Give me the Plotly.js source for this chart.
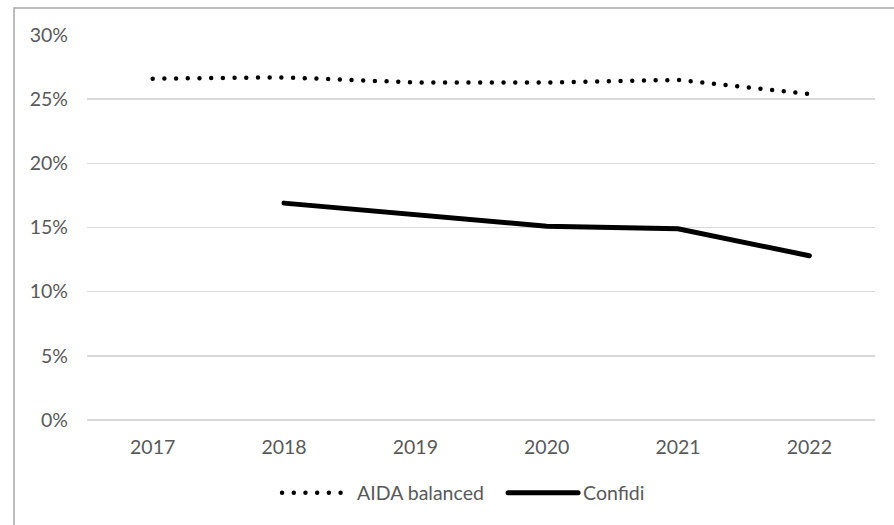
<!DOCTYPE html>
<html>
<head>
<meta charset="utf-8">
<script src="https://cdn.plot.ly/plotly-3.0.1.min.js"></script>
<style>
  html, body { margin: 0; padding: 0; background: #fff; }
  #chart { width: 894px; height: 525px; }
  /* round caps so the dotted series draws as round dots */
  .scatterlayer .js-line, .legend .js-line { stroke-linecap: round; }
</style>
</head>
<body>
<div id="chart"></div>
<script>
// Years on the category axis
const years = ['2017', '2018', '2019', '2020', '2021', '2022'];
// Share values in percent
const aidaBalanced = [26.6, 26.7, 26.3, 26.3, 26.5, 25.4];
const confidi = [null, 16.9, 16.0, 15.1, 14.9, 12.8];
// Y-axis ticks
const yTickVals = [0, 5, 10, 15, 20, 25, 30];
const yTickText = yTickVals.map(v => v + '%');

const font = { family: 'Lato, "Open Sans", sans-serif', size: 19.5, color: '#595959' };

const traces = [
  {
    x: years, y: aidaBalanced, name: 'AIDA balanced',
    type: 'scatter', mode: 'lines',
    line: { color: '#000000', width: 4.5, dash: '0px,11.7px' },
    hoverinfo: 'skip'
  },
  {
    x: years, y: confidi, name: 'Confidi',
    type: 'scatter', mode: 'lines',
    line: { color: '#000000', width: 5 },
    connectgaps: false,
    hoverinfo: 'skip'
  }
];

const layout = {
  width: 894, height: 525,
  margin: { l: 87, r: 19, t: 35, b: 105 },
  paper_bgcolor: '#ffffff', plot_bgcolor: '#ffffff',
  font: font,
  showlegend: true,
  legend: {
    orientation: 'h', x: 0.528, xanchor: 'center', y: -0.19, yanchor: 'middle',
    font: font, itemwidth: 70, traceorder: 'normal',
    entrywidth: 141, entrywidthmode: 'pixels'
  },
  xaxis: {
    type: 'category', range: [-0.5, 5.5],
    showgrid: false, zeroline: false, showline: false,
    ticks: '', ticklabelstandoff: 13, tickfont: font, fixedrange: true
  },
  yaxis: {
    range: [0, 30], tickvals: yTickVals, ticktext: yTickText,
    showgrid: true, gridcolor: '#d9d9d9', gridwidth: 1.5,
    zeroline: true, zerolinecolor: '#d9d9d9', zerolinewidth: 1.5,
    showline: false,
    ticks: '', ticklabelstandoff: 18, tickfont: font, fixedrange: true
  },
  shapes: [
    {
      type: 'rect', xref: 'paper', yref: 'paper',
      x0: -0.0926, x1: 1.2, y0: -0.6, y1: 1.0701,
      line: { color: '#a6a6a6', width: 1.5 }, fillcolor: 'rgba(0,0,0,0)', layer: 'below'
    }
  ]
};

Plotly.newPlot('chart', traces, layout, { staticPlot: true, displayModeBar: false });
</script>
</body>
</html>
